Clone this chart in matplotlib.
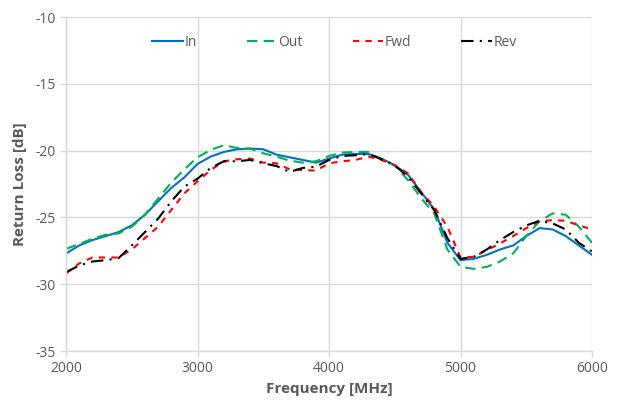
import numpy as np
import matplotlib
matplotlib.use('Agg')
import matplotlib.pyplot as plt

# frequency points, MHz
freq = np.arange(2000, 6001, 100)

ret_in = [-27.7, -27.1, -26.7, -26.4, -26.1, -25.6, -24.8, -23.8, -22.8, -22.0,
          -21.0, -20.45, -20.1, -19.9, -19.85, -19.9, -20.3, -20.5, -20.7, -20.9,
          -20.6, -20.3, -20.25, -20.25, -20.6, -21.1, -21.8, -23.1, -24.4, -26.9,
          -28.2, -28.1, -27.8, -27.4, -27.1, -26.4, -25.8, -25.9, -26.4, -27.1, -27.8]

ret_out = [-27.35, -27.0, -26.6, -26.3, -26.2, -25.7, -24.8, -23.6, -22.4, -21.4,
           -20.5, -19.95, -19.6, -19.8, -19.85, -20.2, -20.45, -20.75, -20.9, -20.8,
           -20.4, -20.15, -20.1, -20.1, -20.7, -21.1, -22.2, -23.55, -24.7, -27.4,
           -28.7, -28.85, -28.7, -28.3, -27.7, -26.4, -25.3, -24.7, -24.8, -25.7, -26.9]

ret_fwd = [-29.2, -28.45, -28.0, -28.0, -28.0, -27.4, -26.55, -25.7, -24.45, -23.2,
           -22.3, -21.45, -20.8, -20.65, -20.6, -20.9, -20.95, -21.4, -21.45, -21.5,
           -20.95, -20.8, -20.7, -20.45, -20.7, -21.1, -21.7, -23.1, -24.2, -25.7,
           -28.0, -27.95, -27.45, -26.95, -26.4, -25.8, -25.3, -25.2, -25.25, -25.6, -25.9]

ret_rev = [-29.1, -28.6, -28.3, -28.2, -28.05, -27.1, -26.1, -25.1, -23.8, -22.7,
           -22.1, -21.3, -20.8, -20.8, -20.7, -20.95, -21.15, -21.6, -21.3, -21.2,
           -20.7, -20.4, -20.35, -20.25, -20.65, -21.1, -21.95, -23.2, -24.45, -26.55,
           -28.1, -27.95, -27.4, -26.7, -26.1, -25.6, -25.25, -25.45, -25.9, -26.9, -27.55]

plt.rcParams['font.family'] = ['Open Sans', 'DejaVu Sans']
plt.rcParams['axes.unicode_minus'] = False
txt = '#595959'

fig = plt.figure(figsize=(6.18, 4.05), dpi=100)
ax = fig.add_axes([0.1068, 0.1333, 0.8512, 0.8247])

ax.plot(freq, ret_in, color='#0070c0', lw=1.5, label='In')
ax.plot(freq, ret_out, color='#00b050', lw=1.5, ls=(0, (5, 3)), label='Out')
ax.plot(freq, ret_fwd, color='#ff0000', lw=1.5, ls=(0, (3, 3)), label='Fwd')
ax.plot(freq, ret_rev, color='#000000', lw=1.5, ls=(0, (6, 3, 1, 3)), label='Rev')

ax.set_xlim(2000, 6000)
ax.set_ylim(-35, -10)
ax.set_xticks(np.arange(2000, 6001, 1000))
ax.set_yticks(np.arange(-35, -9, 5))
ax.grid(True, color='#d9d9d9', lw=1)
ax.set_axisbelow(True)

for s in ['top', 'right']:
    ax.spines[s].set_visible(False)
for s in ['left', 'bottom']:
    ax.spines[s].set_color('#d9d9d9')
    ax.spines[s].set_linewidth(1)
ax.tick_params(colors='#d9d9d9', labelcolor=txt, labelsize=10, length=4, width=1)

ax.set_xlabel('Frequency [MHz]', fontsize=11, fontweight='bold', color=txt, labelpad=4)
ax.set_ylabel('Return Loss [dB]', fontsize=11, fontweight='bold', color=txt, labelpad=6)

leg = ax.legend(loc='upper center', bbox_to_anchor=(0.51, 0.985), ncol=4, frameon=False,
                fontsize=10, handlelength=2.2, handletextpad=0.1, columnspacing=3.6)
for t in leg.get_texts():
    t.set_color(txt)

plt.savefig('out.png', dpi=100)
